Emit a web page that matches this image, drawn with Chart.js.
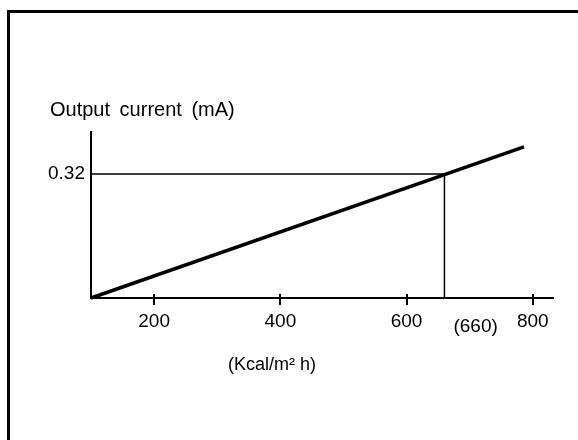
<!DOCTYPE html>
<html>
<head>
<meta charset="utf-8">
<script src="https://cdn.jsdelivr.net/npm/chart.js@4/dist/chart.umd.min.js"></script>
<style>
    html, body { margin: 0; padding: 0; background: #fff; overflow: hidden; }
    canvas { display: block; }
</style>
</head>
<body>
<canvas id="chart" width="578" height="440"></canvas>
<script>
const irradiance = [100, 786];
const current = [0, 0.39];
const xTicks = [200, 400, 600, 800];
const yTicks = [0.32];
const markIrradiance = 660;
const markCurrent = 0.32;
const markLabel = "(660)";
const yTitle = "Output current (mA)";
const xTitle = "(Kcal/m\u00b2 h)";

const FONT = "'Liberation Sans', Arial, sans-serif";

const chart = document.getElementById("chart");

/**
 * Frame, axis titles, the (660) label and the little ticks across the x axis
 */
const extras = {
    id: "extras",
    beforeDraw(c) {
        const ctx = c.ctx;
        ctx.save();
        ctx.fillStyle = "#fff";
        ctx.fillRect(0, 0, c.width, c.height);
        ctx.fillStyle = "#000";
        ctx.fillRect(7, 10, c.width - 7, 3);
        ctx.fillRect(7, 10, 3, c.height - 10);
        ctx.restore();
    },
    afterDraw(c) {
        const ctx = c.ctx;
        const x = c.scales.x;
        const bottom = c.chartArea.bottom;
        ctx.save();
        ctx.strokeStyle = "#000";
        ctx.lineWidth = 2;
        xTicks.forEach((v) => {
            const px = Math.round(x.getPixelForValue(v));
            ctx.beginPath();
            ctx.moveTo(px, bottom - 4);
            ctx.lineTo(px, bottom + 7);
            ctx.stroke();
        });

        ctx.fillStyle = "#000";
        ctx.textBaseline = "alphabetic";
        ctx.textAlign = "left";
        ctx.font = "20px " + FONT;
        if ("wordSpacing" in ctx) ctx.wordSpacing = "4px";
        ctx.fillText(yTitle, 50, 116);
        if ("wordSpacing" in ctx) ctx.wordSpacing = "0px";

        ctx.font = "18px " + FONT;
        ctx.textAlign = "center";
        ctx.fillText(xTitle, 272, 370);

        ctx.font = "19px " + FONT;
        ctx.textAlign = "left";
        ctx.textBaseline = "middle";
        ctx.fillText(markLabel, x.getPixelForValue(markIrradiance) + 9, 327);
        ctx.restore();
    }
};

const chartInstance = new Chart(chart, {
    type: "scatter",
    data: {
        datasets: [
            {
                data: irradiance.map((v, i) => ({ x: v, y: current[i] })),
                showLine: true,
                borderColor: "#000",
                borderWidth: 3.5,
                pointRadius: 0,
                clip: false,
            },
            {
                data: [
                    { x: irradiance[0], y: markCurrent },
                    { x: markIrradiance, y: markCurrent },
                    { x: markIrradiance, y: 0 },
                ],
                showLine: true,
                borderColor: "#000",
                borderWidth: 1.5,
                pointRadius: 0,
                clip: false,
            },
        ],
    },
    options: {
        responsive: false,
        animation: false,
        layout: {
            padding: { left: 0, top: 132, right: 25, bottom: 0 }
        },
        plugins: {
            legend: { display: false },
            tooltip: { enabled: false }
        },
        scales: {
            x: {
                type: "linear",
                min: 100,
                max: 832,
                afterBuildTicks: (s) => { s.ticks = xTicks.map((v) => ({ value: v })); },
                afterFit: (s) => { s.height = 440 - 298; },
                grid: { display: false, tickLength: 0 },
                border: { display: true, color: "#000", width: 2 },
                ticks: {
                    color: "#000",
                    padding: 12,
                    maxRotation: 0,
                    autoSkip: false,
                    font: { family: FONT, size: 19 }
                }
            },
            y: {
                type: "linear",
                min: 0,
                max: 0.4284,
                afterBuildTicks: (s) => { s.ticks = yTicks.map((v) => ({ value: v })); },
                afterFit: (s) => { s.width = 91; },
                grid: { display: false, tickLength: 0 },
                border: { display: true, color: "#000", width: 2 },
                ticks: {
                    color: "#000",
                    padding: 6,
                    autoSkip: false,
                    font: { family: FONT, size: 19 },
                    callback: (v) => v.toFixed(2)
                }
            }
        }
    },
    plugins: [extras]
});
</script>
</body>
</html>
